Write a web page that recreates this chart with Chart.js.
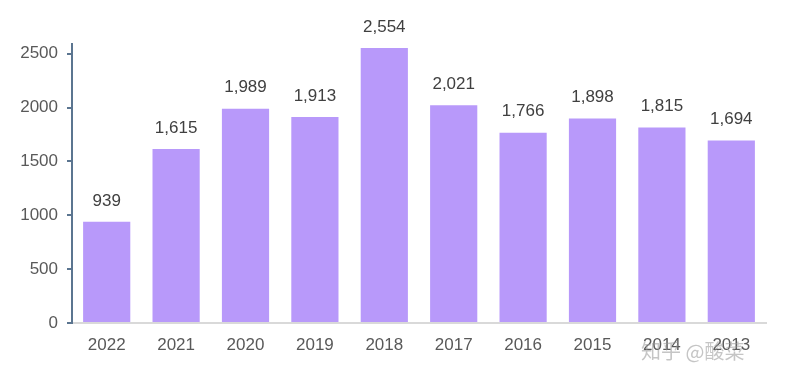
<!DOCTYPE html>
<html>
<head>
<meta charset="utf-8">
<script src="https://cdn.jsdelivr.net/npm/chart.js@4.4.0/dist/chart.umd.min.js"></script>
<style>
  html, body { margin: 0; padding: 0; background: #fff; }
</style>
</head>
<body>
<canvas id="barChart" width="786" height="385"></canvas>
<script>
const years = ['2022', '2021', '2020', '2019', '2018', '2017', '2016', '2015', '2014', '2013'];
const counts = [939, 1615, 1989, 1913, 2554, 2021, 1766, 1898, 1815, 1694];
const yTicks = [0, 500, 1000, 1500, 2000, 2500];

const fontFamily = '"Liberation Sans", Arial, sans-serif';

// numbers above the bars
const valueLabels = {
    id: 'valueLabels',
    afterDatasetsDraw(chart) {
        const ctx = chart.ctx;
        const meta = chart.getDatasetMeta(0);
        ctx.save();
        ctx.font = '17px ' + fontFamily;
        ctx.fillStyle = '#404040';
        ctx.textAlign = 'center';
        ctx.textBaseline = 'middle';
        meta.data.forEach((bar, i) => {
            ctx.fillText(counts[i].toLocaleString('en-US'), bar.x, bar.y - 21);
        });
        ctx.restore();
    }
};

// site watermark
const watermark = {
    id: 'watermark',
    afterDraw(chart) {
        const ctx = chart.ctx;
        ctx.save();
        ctx.font = '20px "Noto Sans CJK SC", sans-serif';
        ctx.fillStyle = 'rgba(150,150,150,0.55)';
        ctx.textAlign = 'left';
        ctx.textBaseline = 'middle';
        ctx.fillText('知乎 @酸菜', 641, 351);
        ctx.restore();
    }
};

new Chart(document.getElementById('barChart'), {
    type: 'bar',
    data: {
        labels: years,
        datasets: [{
            data: counts,
            backgroundColor: '#B899FA',
            categoryPercentage: 0.68,
            barPercentage: 1.0
        }]
    },
    options: {
        responsive: false,
        animation: false,
        layout: { padding: { top: 44, right: 20, left: 0, bottom: 0 } },
        plugins: {
            legend: { display: false },
            tooltip: { enabled: false }
        },
        scales: {
            x: {
                grid: { display: false },
                border: { display: true, color: '#D9D9D9', width: 2 },
                ticks: { color: '#595959', font: { family: fontFamily, size: 17 }, padding: 4 },
                afterFit(scale) { scale.height = 62; }
            },
            y: {
                min: 0,
                max: 2590,
                afterBuildTicks(scale) { scale.ticks = yTicks.map(v => ({ value: v })); },
                grid: {
                    drawOnChartArea: false,
                    drawTicks: true,
                    tickLength: 5,
                    color: '#5B7590',
                    lineWidth: 2
                },
                border: { display: true, color: '#5B7590', width: 2 },
                ticks: {
                    color: '#595959',
                    font: { family: fontFamily, size: 17 },
                    padding: 9,
                    callback: v => String(v)
                },
                afterFit(scale) { scale.width = 72; }
            }
        }
    },
    plugins: [valueLabels, watermark]
});
</script>
</body>
</html>
